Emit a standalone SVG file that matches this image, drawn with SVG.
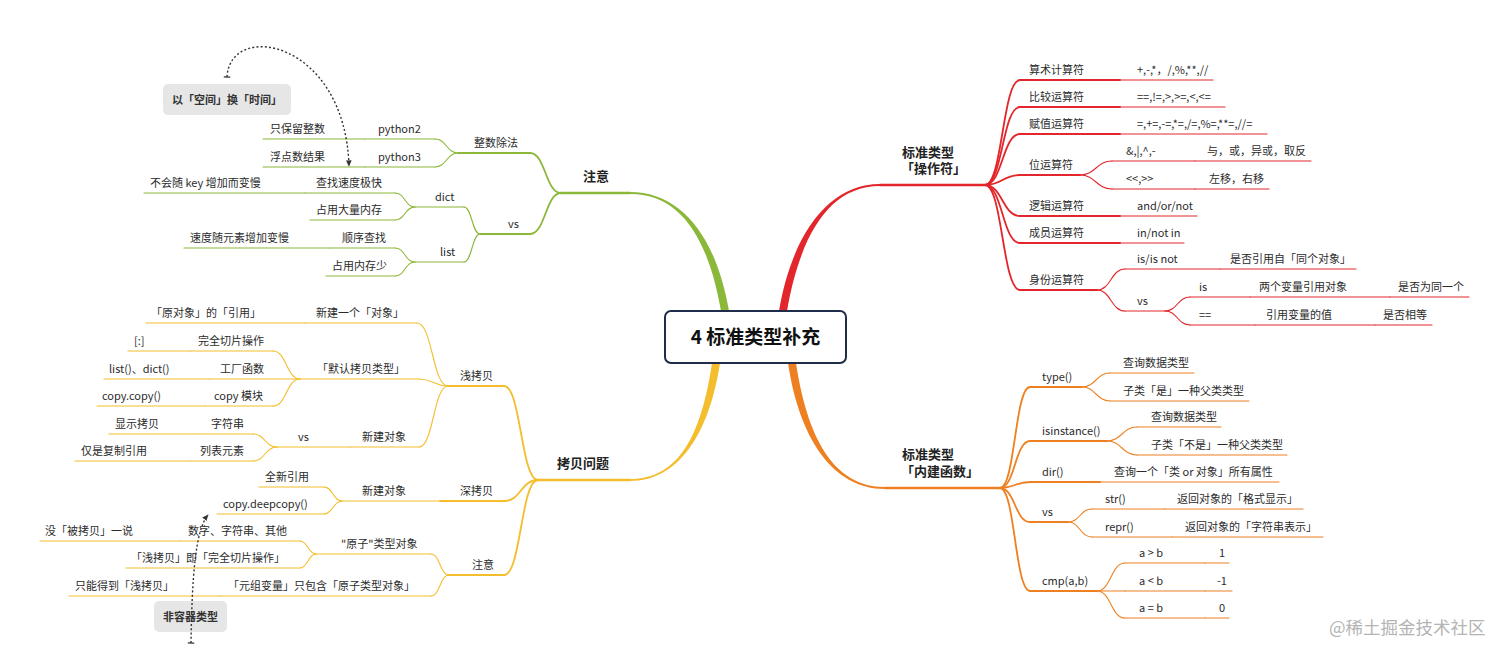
<svg xmlns="http://www.w3.org/2000/svg" width="1512" height="656" viewBox="0 0 1512 656">
<defs>
<style>
text{font-family:"Noto Sans CJK SC","Noto Sans",sans-serif;fill:#2b2b2b;font-size:11px}
.b{font-size:13px;font-weight:700;fill:#222}
.c{font-size:11px;font-weight:700;fill:#333}
.title{font-size:19px;font-weight:700;fill:#111}
.l{fill:none;stroke-linecap:round}
.R{stroke:#e3262b}.O{stroke:#ef8021}.Y{stroke:#f4bd2c}.G{stroke:#8cb83a}
.w1{stroke-width:1.1}.w2{stroke-width:1.8}.w3{stroke-width:2.4}
.rel{fill:none;stroke:#333;stroke-width:1.4;stroke-dasharray:2 2.2}
.box{fill:#e6e6e6}
.wm{font-size:17.5px;fill:#b4b4b4}
</style>
<marker id="arr" viewBox="0 0 10 10" refX="8" refY="5" markerWidth="7" markerHeight="7" orient="auto" markerUnits="userSpaceOnUse"><path d="M0,1 L9,5 L0,9 Z" fill="#333"/></marker>
<marker id="tick" viewBox="0 0 10 10" refX="5" refY="5" markerWidth="8" markerHeight="8" orient="auto" markerUnits="userSpaceOnUse"><path d="M5,1 V9" stroke="#333" stroke-width="1.5"/></marker>
</defs>
<rect width="1512" height="656" fill="#fff"/>

<g id="connectors">
 <path d="M779,311 C792,235 828,184 880,184 L880,186 C828,186 800,237 787,311 Z" fill="#e3262b"/>
 <path d="M721,311 C708,237 680,194 630,194 L630,192 C680,192 716,235 729,311 Z" fill="#8cb83a"/>
 <path d="M712,363 C701,437 678,479 630,479 L630,481 C678,481 709,435 720,363 Z" fill="#f4bd2c"/>
 <path d="M796,363 C807,435 832,487 885,487 L885,489 C832,489 799,437 788,363 Z" fill="#ef8021"/>

 <g class="l R w2">
  <path d="M985,185 C1002.5,185 1002.5,80 1020,80"/>
  <path d="M985,185 C1002.5,185 1002.5,107 1020,107"/>
  <path d="M985,185 C1002.5,185 1002.5,134 1020,134"/>
  <path d="M985,185 C1002.5,185 1002.5,175 1020,175"/>
  <path d="M985,185 C1002.5,185 1002.5,216 1020,216"/>
  <path d="M985,185 C1002.5,185 1002.5,243 1020,243"/>
  <path d="M985,185 C1002.5,185 1002.5,290 1020,290"/>
 </g>
 <g class="l R w1">
  <path d="M1080,175 C1096,175 1096,161 1112,161"/>
  <path d="M1080,175 C1096,175 1096,189 1112,189"/>
  <path d="M1097,290 C1111,290 1111,269 1125,269"/>
  <path d="M1097,290 C1111,290 1111,311 1125,311"/>
  <path d="M1165,311 C1177.5,311 1177.5,297 1190,297"/>
  <path d="M1165,311 C1177.5,311 1177.5,325 1190,325"/>
 </g>

 <g class="l O w2">
  <path d="M1000,488 C1015,488 1015,387 1030,387"/>
  <path d="M1000,488 C1015,488 1015,441 1030,441"/>
  <path d="M1000,488 C1015,488 1015,482 1030,482"/>
  <path d="M1000,488 C1015,488 1015,522 1030,522"/>
  <path d="M1000,488 C1015,488 1015,591 1030,591"/>
 </g>
 <g class="l O w1">
  <path d="M1082,387 C1096,387 1096,373 1110,373"/>
  <path d="M1082,387 C1096,387 1096,401 1110,401"/>
  <path d="M1107,441 C1122,441 1122,427 1137,427"/>
  <path d="M1107,441 C1122,441 1122,455 1137,455"/>
  <path d="M1068,522 C1080,522 1080,509 1092,509"/>
  <path d="M1068,522 C1080,522 1080,537 1092,537"/>
  <path d="M1097,591 C1111,591 1111,563 1125,563"/>
  <path d="M1097,591 L1125,591"/>
  <path d="M1097,591 C1111,591 1111,618 1125,618"/>
 </g>

 <g class="l G w2">
  <path d="M561,193 C545.5,193 545.5,153 530,153"/>
  <path d="M561,193 C545.5,193 545.5,234 530,234"/>
 </g>
 <g class="l G w1">
  <path d="M458,153 C446.5,153 446.5,139 435,139"/>
  <path d="M458,153 C446.5,153 446.5,167 435,167"/>
  <path d="M480,234 C472,234 472,207 464,207"/>
  <path d="M480,234 C472,234 472,262 464,262"/>
  <path d="M415,207 C405,207 405,193 395,193"/>
  <path d="M415,207 C405,207 405,220 395,220"/>
  <path d="M415,262 C405,262 405,248 395,248"/>
  <path d="M415,262 C405,262 405,276 395,276"/>
 </g>

 <g class="l Y w2">
  <path d="M538,480 C521,480 521,386 504,386"/>
  <path d="M538,480 C521,480 521,501 504,501"/>
  <path d="M538,480 C521,480 521,575 504,575"/>
 </g>
 <g class="l Y w1">
  <path d="M448,386 C432.5,386 432.5,323 417,323"/>
  <path d="M448,386 C433.5,386 433.5,379 419,379"/>
  <path d="M448,386 C433.5,386 433.5,447 419,447"/>
  <path d="M300,379 C286.5,379 286.5,351 273,351"/>
  <path d="M300,379 C286.5,379 286.5,406 273,406"/>
  <path d="M277,447 C265,447 265,434 253,434"/>
  <path d="M277,447 C265,447 265,461 253,461"/>
  <path d="M342,501 C333,501 333,487 324,487"/>
  <path d="M342,501 C333,501 333,514 324,514"/>
  <path d="M449,575 C440,575 440,554 431,554"/>
  <path d="M449,575 C440,575 440,596 431,596"/>
  <path d="M316,554 C308,554 308,541 300,541"/>
  <path d="M316,554 C308,554 308,568 300,568"/>
 </g>
</g>

<g id="n-center">
 <rect x="665" y="311" width="181" height="52" rx="6" fill="#fff" stroke="#1f2d4a" stroke-width="2"/>
 <text class="title" x="755.5" y="344" text-anchor="middle">4 标准类型补充</text>
</g>

<!-- RED: 操作符 -->
<g id="n-ops"><path class="l R w3" d="M880,185 H985"/><text class="b" x="902" y="157">标准类型</text><text class="b" x="901" y="173">「操作符」</text></g>
<g id="n-r1"><path class="l R w2" d="M1020,80 H1120"/><text x="1029" y="74">算术计算符</text></g>
<g id="n-r1a"><path class="l R w1" d="M1120,80 H1213"/><text x="1137" y="74">+,-,*，/,%,**,//</text></g>
<g id="n-r2"><path class="l R w2" d="M1020,107 H1120"/><text x="1029" y="101">比较运算符</text></g>
<g id="n-r2a"><path class="l R w1" d="M1120,107 H1225"/><text x="1137" y="101">==,!=,&gt;,&gt;=,&lt;,&lt;=</text></g>
<g id="n-r3"><path class="l R w2" d="M1020,134 H1120"/><text x="1029" y="128">赋值运算符</text></g>
<g id="n-r3a"><path class="l R w1" d="M1120,134 H1267"/><text x="1137" y="128">=,+=,-=,*=,/=,%=,**=,//=</text></g>
<g id="n-r4"><path class="l R w2" d="M1020,175 H1080"/><text x="1029" y="169">位运算符</text></g>
<g id="n-r4a"><path class="l R w1" d="M1112,161 H1195"/><text x="1126" y="155">&amp;,|,^,-</text></g>
<g id="n-r4a1"><path class="l R w1" d="M1195,161 H1311"/><text x="1207" y="155">与，或，异或，取反</text></g>
<g id="n-r4b"><path class="l R w1" d="M1112,189 H1195"/><text x="1126" y="183">&lt;&lt;,&gt;&gt;</text></g>
<g id="n-r4b1"><path class="l R w1" d="M1195,189 H1269"/><text x="1209" y="183">左移，右移</text></g>
<g id="n-r5"><path class="l R w2" d="M1020,216 H1120"/><text x="1029" y="210">逻辑运算符</text></g>
<g id="n-r5a"><path class="l R w1" d="M1120,216 H1197"/><text x="1137" y="210">and/or/not</text></g>
<g id="n-r6"><path class="l R w2" d="M1020,243 H1120"/><text x="1029" y="237">成员运算符</text></g>
<g id="n-r6a"><path class="l R w1" d="M1120,243 H1184"/><text x="1137" y="237">in/not in</text></g>
<g id="n-r7"><path class="l R w2" d="M1020,290 H1097"/><text x="1029" y="284">身份运算符</text></g>
<g id="n-r7a"><path class="l R w1" d="M1125,269 H1220"/><text x="1137" y="263">is/is not</text></g>
<g id="n-r7a1"><path class="l R w1" d="M1220,269 H1356"/><text x="1230" y="263">是否引用自「同个对象」</text></g>
<g id="n-r7b"><path class="l R w1" d="M1125,311 H1165"/><text x="1137" y="305">vs</text></g>
<g id="n-r7b1"><path class="l R w1" d="M1190,297 H1250"/><text x="1199" y="291">is</text></g>
<g id="n-r7b1a"><path class="l R w1" d="M1250,297 H1390"/><text x="1259" y="291">两个变量引用对象</text></g>
<g id="n-r7b1b"><path class="l R w1" d="M1390,297 H1469"/><text x="1398" y="291">是否为同一个</text></g>
<g id="n-r7b2"><path class="l R w1" d="M1190,325 H1255"/><text x="1199" y="319">==</text></g>
<g id="n-r7b2a"><path class="l R w1" d="M1255,325 H1375"/><text x="1266" y="319">引用变量的值</text></g>
<g id="n-r7b2b"><path class="l R w1" d="M1375,325 H1432"/><text x="1383" y="319">是否相等</text></g>

<!-- ORANGE: 内建函数 -->
<g id="n-builtin"><path class="l O w3" d="M885,488 H1000"/><text class="b" x="902" y="459">标准类型</text><text class="b" x="901" y="476">「内建函数」</text></g>
<g id="n-o1"><path class="l O w2" d="M1030,387 H1082"/><text x="1042" y="381">type()</text></g>
<g id="n-o1a"><path class="l O w1" d="M1110,373 H1194"/><text x="1123" y="367">查询数据类型</text></g>
<g id="n-o1b"><path class="l O w1" d="M1110,401 H1249"/><text x="1123" y="395">子类「是」一种父类类型</text></g>
<g id="n-o2"><path class="l O w2" d="M1030,441 H1107"/><text x="1042" y="435">isinstance()</text></g>
<g id="n-o2a"><path class="l O w1" d="M1137,427 H1221"/><text x="1151" y="421">查询数据类型</text></g>
<g id="n-o2b"><path class="l O w1" d="M1137,455 H1287"/><text x="1151" y="449">子类「不是」一种父类类型</text></g>
<g id="n-o3"><path class="l O w2" d="M1030,482 H1100"/><text x="1042" y="476">dir()</text></g>
<g id="n-o3a"><path class="l O w1" d="M1100,482 H1279"/><text x="1114" y="476">查询一个「类 or 对象」所有属性</text></g>
<g id="n-o4"><path class="l O w2" d="M1030,522 H1068"/><text x="1042" y="516">vs</text></g>
<g id="n-o4a"><path class="l O w1" d="M1092,509 H1165"/><text x="1105" y="503">str()</text></g>
<g id="n-o4a1"><path class="l O w1" d="M1165,509 H1303"/><text x="1177" y="503">返回对象的「格式显示」</text></g>
<g id="n-o4b"><path class="l O w1" d="M1092,537 H1172"/><text x="1105" y="531">repr()</text></g>
<g id="n-o4b1"><path class="l O w1" d="M1172,537 H1323"/><text x="1185" y="531">返回对象的「字符串表示」</text></g>
<g id="n-o5"><path class="l O w2" d="M1030,591 H1097"/><text x="1042" y="585">cmp(a,b)</text></g>
<g id="n-o5a"><path class="l O w1" d="M1125,563 H1205"/><text x="1139" y="557">a &gt; b</text></g>
<g id="n-o5a1"><path class="l O w1" d="M1205,563 H1229"/><text x="1219" y="557">1</text></g>
<g id="n-o5b"><path class="l O w1" d="M1125,591 H1205"/><text x="1139" y="585">a &lt; b</text></g>
<g id="n-o5b1"><path class="l O w1" d="M1205,591 H1232"/><text x="1217" y="585">-1</text></g>
<g id="n-o5c"><path class="l O w1" d="M1125,618 H1205"/><text x="1139" y="612">a = b</text></g>
<g id="n-o5c1"><path class="l O w1" d="M1205,618 H1229"/><text x="1219" y="612">0</text></g>

<!-- GREEN: 注意 -->
<g id="n-note"><path class="l G w3" d="M630,193 H561"/><text class="b" x="583" y="181">注意</text></g>
<g id="n-g1"><path class="l G w2" d="M458,153 H530"/><text x="474" y="147">整数除法</text></g>
<g id="n-g1a"><path class="l G w1" d="M365,139 H435"/><text x="378" y="133">python2</text></g>
<g id="n-g1a1"><path class="l G w1" d="M263,139 H365"/><text x="270" y="133">只保留整数</text></g>
<g id="n-g1b"><path class="l G w1" d="M365,167 H435"/><text x="378" y="161">python3</text></g>
<g id="n-g1b1"><path class="l G w1" d="M263,167 H365"/><text x="270" y="161">浮点数结果</text></g>
<g id="n-g2"><path class="l G w2" d="M480,234 H530"/><text x="508" y="228">vs</text></g>
<g id="n-g2a"><path class="l G w1" d="M415,207 H464"/><text x="435" y="201">dict</text></g>
<g id="n-g2a1"><path class="l G w1" d="M305,193 H395"/><text x="316" y="187">查找速度极快</text></g>
<g id="n-g2a1a"><path class="l G w1" d="M144,193 H305"/><text x="150" y="187">不会随 key 增加而变慢</text></g>
<g id="n-g2a2"><path class="l G w1" d="M310,220 H395"/><text x="316" y="214">占用大量内存</text></g>
<g id="n-g2b"><path class="l G w1" d="M415,262 H464"/><text x="440" y="256">list</text></g>
<g id="n-g2b1"><path class="l G w1" d="M330,248 H395"/><text x="342" y="242">顺序查找</text></g>
<g id="n-g2b1a"><path class="l G w1" d="M184,248 H330"/><text x="190" y="242">速度随元素增加变慢</text></g>
<g id="n-g2b2"><path class="l G w1" d="M326,276 H395"/><text x="332" y="270">占用内存少</text></g>

<!-- YELLOW: 拷贝问题 -->
<g id="n-copy"><path class="l Y w3" d="M630,480 H538"/><text class="b" x="557" y="468">拷贝问题</text></g>
<g id="n-y1"><path class="l Y w2" d="M448,386 H504"/><text x="460" y="380">浅拷贝</text></g>
<g id="n-y1a"><path class="l Y w1" d="M305,323 H417"/><text x="316" y="317">新建一个「对象」</text></g>
<g id="n-y1a1"><path class="l Y w1" d="M146,323 H305"/><text x="151" y="317">「原对象」的「引用」</text></g>
<g id="n-y1b"><path class="l Y w1" d="M300,379 H419"/><text x="317" y="373">「默认拷贝类型」</text></g>
<g id="n-y1b1"><path class="l Y w1" d="M190,351 H273"/><text x="198" y="345">完全切片操作</text></g>
<g id="n-y1b1a"><path class="l Y w1" d="M128,351 H190"/><text x="134" y="345">[:]</text></g>
<g id="n-y1b2"><path class="l Y w1" d="M210,379 H300"/><text x="220" y="373">工厂函数</text></g>
<g id="n-y1b2a"><path class="l Y w1" d="M104,379 H210"/><text x="109" y="373">list()、dict()</text></g>
<g id="n-y1b3"><path class="l Y w1" d="M205,406 H273"/><text x="214" y="400">copy 模块</text></g>
<g id="n-y1b3a"><path class="l Y w1" d="M97,406 H205"/><text x="102" y="400">copy.copy()</text></g>
<g id="n-y1c"><path class="l Y w1" d="M350,447 H419"/><text x="362" y="441">新建对象</text></g>
<g id="n-y1c1"><path class="l Y w1" d="M277,447 H350"/><text x="298" y="441">vs</text></g>
<g id="n-y1c1a"><path class="l Y w1" d="M200,434 H253"/><text x="211" y="428">字符串</text></g>
<g id="n-y1c1a1"><path class="l Y w1" d="M109,434 H200"/><text x="115" y="428">显示拷贝</text></g>
<g id="n-y1c1b"><path class="l Y w1" d="M190,461 H253"/><text x="200" y="455">列表元素</text></g>
<g id="n-y1c1b1"><path class="l Y w1" d="M75,461 H190"/><text x="81" y="455">仅是复制引用</text></g>
<g id="n-y2"><path class="l Y w2" d="M440,501 H504"/><text x="460" y="495">深拷贝</text></g>
<g id="n-y2a"><path class="l Y w1" d="M342,501 H440"/><text x="362" y="495">新建对象</text></g>
<g id="n-y2a1"><path class="l Y w1" d="M259,487 H324"/><text x="265" y="481">全新引用</text></g>
<g id="n-y2a2"><path class="l Y w1" d="M217,514 H324"/><text x="223" y="508">copy.deepcopy()</text></g>
<g id="n-y3"><path class="l Y w2" d="M449,575 H504"/><text x="472" y="569">注意</text></g>
<g id="n-y3a"><path class="l Y w1" d="M316,554 H431"/><text x="341" y="548">"原子"类型对象</text></g>
<g id="n-y3a1"><path class="l Y w1" d="M180,541 H300"/><text x="188" y="535">数字、字符串、其他</text></g>
<g id="n-y3a1a"><path class="l Y w1" d="M40,541 H180"/><text x="45" y="535">没「被拷贝」一说</text></g>
<g id="n-y3a2"><path class="l Y w1" d="M126,568 H300"/><text x="131" y="562">「浅拷贝」即「完全切片操作」</text></g>
<g id="n-y3b"><path class="l Y w1" d="M220,596 H431"/><text x="228" y="590">「元组变量」只包含「原子类型对象」</text></g>
<g id="n-y3b1"><path class="l Y w1" d="M69,596 H220"/><text x="75" y="590">只能得到「浅拷贝」</text></g>

<!-- callouts -->
<g id="n-space-time"><rect class="box" x="163" y="84" width="128" height="31" rx="5"/><text class="c" x="227" y="104" text-anchor="middle">以「空间」换「时间」</text></g>
<g id="n-noncontainer"><rect class="box" x="154" y="601" width="73" height="31" rx="5"/><text class="c" x="190.5" y="621" text-anchor="middle">非容器类型</text></g>

<g id="relationships">
 <path class="rel" d="M227,77 C230,20 345,40 349,166" marker-start="url(#tick)" marker-end="url(#arr)"/>
 <path class="rel" d="M191,643 C192,580 195,530 208,515" marker-start="url(#tick)" marker-end="url(#arr)"/>
</g>

<text class="wm" x="1329" y="634">@稀土掘金技术社区</text>
</svg>
